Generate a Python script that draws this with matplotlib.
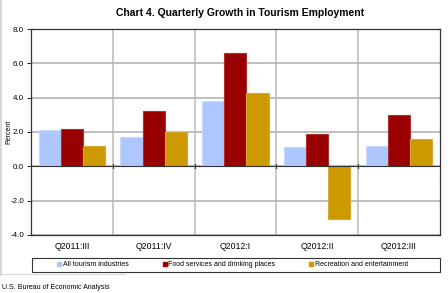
import numpy as np
import matplotlib.pyplot as plt
from matplotlib.lines import Line2D
from matplotlib.patches import Rectangle

quarters = ['Q2011:III', 'Q2011:IV', 'Q2012:I', 'Q2012:II', 'Q2012:III']
all_tourism = [2.1, 1.7, 3.8, 1.1, 1.2]
food_services = [2.2, 3.2, 6.6, 1.9, 3.0]
recreation = [1.2, 2.0, 4.3, -3.05, 1.6]
series_names = ['All tourism industries', 'Food services and drinking places',
                'Recreation and entertainment']
colors = ['#aec8ff', '#990000', '#cc9900']
edges = ['#c8d8ff', '#b03030', '#d6a830']

plt.rcParams['font.family'] = ['Liberation Sans', 'DejaVu Sans']

fig = plt.figure(figsize=(4.48, 2.93), dpi=100)
ax = fig.add_axes([0.069, 0.198, 0.913, 0.703])

x = np.arange(len(quarters))
w = 0.27
for i, (vals, c, e) in enumerate(zip([all_tourism, food_services, recreation], colors, edges)):
    ax.bar(x + (i - 1) * w, vals, width=w, color=c, edgecolor=e, linewidth=0.8, zorder=3)

ax.set_xlim(-0.5, len(quarters) - 0.5)
ax.set_ylim(-4, 8)
ax.set_yticks(np.arange(-4, 8.1, 2))
ax.set_yticklabels(['%.1f' % v for v in np.arange(-4, 8.1, 2)], fontsize=5.8)
ax.set_xticks(x)
ax.set_xticklabels(quarters, fontsize=6.3)
ax.tick_params(axis='x', length=0, pad=5)
ax.tick_params(axis='y', length=3, width=0.6, pad=2)
ax.set_xticks(np.arange(0.5, len(quarters) - 0.5), minor=True)
ax.tick_params(axis='x', which='minor', length=0)
ax.grid(axis='y', color='#b4b4b4', linewidth=1.2, zorder=0)
ax.grid(axis='x', which='minor', color='#c0c0c0', linewidth=1.2, zorder=0)
ax.axhline(0, color='#333333', linewidth=0.8, zorder=4)
for b in np.arange(0.5, len(quarters) - 0.5):
    ax.plot([b, b], [-0.12, 0.12], color='#333333', linewidth=0.8, zorder=4)
for s in ax.spines.values():
    s.set_color('#333333')
    s.set_linewidth(0.9)
fig.text(0.02, 0.55, 'Percent', fontsize=5, rotation=90, ha='center', va='center')

fig.text(0.535, 0.955, 'Chart 4. Quarterly Growth in Tourism Employment',
         ha='center', va='center', fontsize=7.5, fontweight='bold')

# legend box below the plot
fig.add_artist(Rectangle((0.071, 0.072), 0.911, 0.048, transform=fig.transFigure,
                         fill=False, edgecolor='#333333', linewidth=0.8))
handles = [Line2D([], [], marker='s', linestyle='none', markersize=3,
                  markerfacecolor=c, markeredgecolor=c) for c in colors]
fig.legend(handles, series_names, loc='center', ncol=3,
           bbox_to_anchor=(0.518, 0.096), fontsize=5, frameon=False,
           handletextpad=0.1, handlelength=0.8, columnspacing=4.8, borderaxespad=0)

fig.add_artist(Line2D([0.003, 0.003], [0.06, 1.0], color='#d0d0d0', linewidth=1.2))
fig.add_artist(Line2D([0.0, 0.28], [0.065, 0.065], color='#d8d8d8', linewidth=0.8))
fig.text(0.005, 0.02, 'U.S. Bureau of Economic Analysis', fontsize=5, ha='left', va='center')

fig.savefig('out.png', dpi=100)
